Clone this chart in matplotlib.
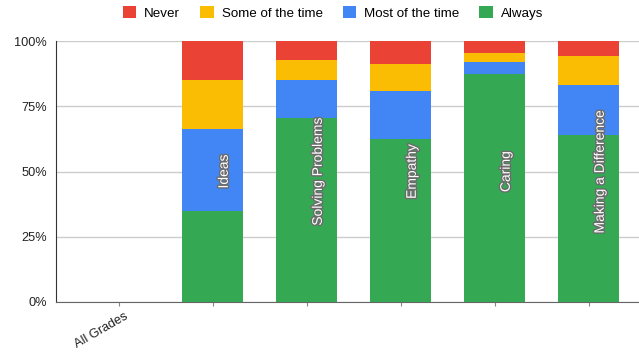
import matplotlib.pyplot as plt
import matplotlib.patheffects as pe
import matplotlib.transforms as mtransforms
from matplotlib.patches import Patch
import numpy as np

plt.rcParams['font.family'] = ['Liberation Sans', 'DejaVu Sans']

# categories and stacked percentage values
categories = ["All Grades", "Ideas", "Solving Problems", "Empathy", "Caring", "Making a Difference"]
always = [0, 35.0, 70.4, 62.5, 87.2, 63.9]
most_of_time = [0, 31.1, 14.7, 18.2, 4.8, 19.1]
some_of_time = [0, 19.0, 7.7, 10.5, 3.4, 11.1]
never = [0, 14.9, 7.2, 8.8, 4.6, 5.9]

series = [
    ("Always", always, "#34A853"),
    ("Most of the time", most_of_time, "#4285F4"),
    ("Some of the time", some_of_time, "#FBBC04"),
    ("Never", never, "#EA4335"),
]

fig = plt.figure(figsize=(6.39, 3.52), dpi=100)
ax = fig.add_axes([56 / 639, 50 / 352, 583 / 639, 261 / 352])

x = np.arange(len(categories))
bottom = np.zeros(len(categories))
for name, vals, color in series:
    ax.bar(x, vals, width=0.65, bottom=bottom, color=color, edgecolor='none', zorder=3)
    bottom += np.array(vals)

# category names written inside the bars
for i in range(1, len(categories)):
    ax.text(i + 0.12, 50, categories[i], rotation=90, ha='center', va='center',
            color='white', fontsize=10, zorder=4,
            path_effects=[pe.withStroke(linewidth=2, foreground='#6b6b6b')])

ax.set_xlim(-0.665, 5.537)
ax.set_ylim(0, 100)
ax.set_yticks([0, 25, 50, 75, 100])
ax.set_yticklabels(["0%", "25%", "50%", "75%", "100%"], fontsize=9.2, color='#222222')
ax.set_xticks(x)
ax.set_xticklabels(["All Grades", "", "", "", "", ""], fontsize=9.2, color='#222222',
                   rotation=30, ha='right', rotation_mode='anchor')
ax.tick_params(axis='y', length=0, pad=6.5)
ax.tick_params(axis='x', length=3, color='#888888', pad=4)
offset = mtransforms.ScaledTranslation(6 / 100, 1 / 100, fig.dpi_scale_trans)
for lab in ax.get_xticklabels():
    lab.set_transform(lab.get_transform() + offset)
ax.grid(axis='y', color='#cccccc', linewidth=1, zorder=0)

for side in ['top', 'right']:
    ax.spines[side].set_visible(False)
ax.spines['left'].set_color('#333333')
ax.spines['bottom'].set_color('#666666')

handles = [Patch(facecolor=c, label=n) for n, _, c in series[::-1]]
fig.legend(handles=handles, loc='center', bbox_to_anchor=(333 / 639, 1 - 13 / 352), ncol=4,
           frameon=False, fontsize=9.6, handlelength=1.0, handleheight=1.0,
           handletextpad=0.6, columnspacing=1.5)

fig.savefig("out.png", dpi=100)
